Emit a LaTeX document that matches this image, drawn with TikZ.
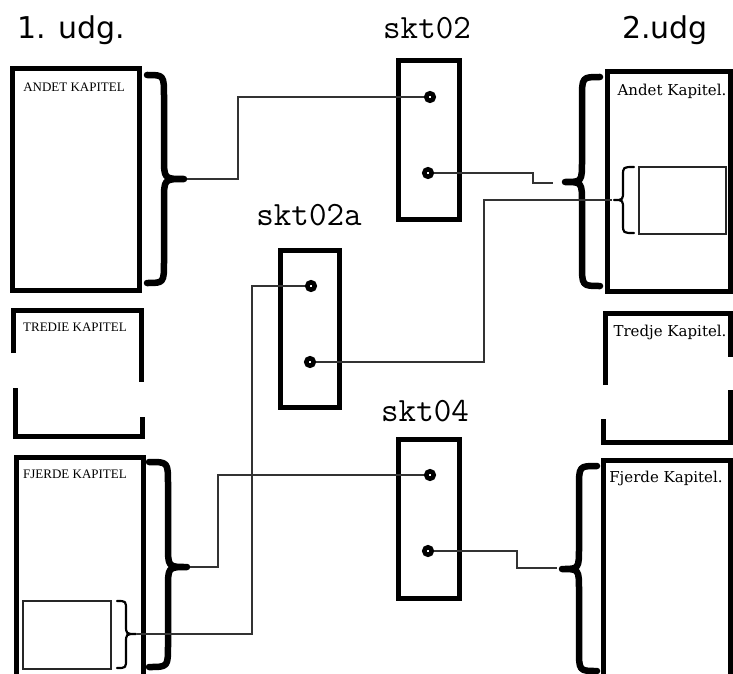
\documentclass[tikz,border=0pt]{standalone}
\usepackage{fontspec}
\newfontfamily\titlefont{DejaVu Sans}
\newfontfamily\capsfont{Liberation Serif}
\newfontfamily\chapfont{DejaVu Serif}
\newcommand\MyBrace[8]{% #1 style, #2 x-ends, #3 x-vertical, #4 x-tip, #5 y-top, #6 y-mid, #7 y-bot, #8 radius
  \draw[#1] (#2,#5) .. controls (#3,#5) .. (#3,#5+#8) -- (#3,#6-#8)
    .. controls (#3,#6) .. (#4,#6) .. controls (#3,#6) .. (#3,#6+#8)
    -- (#3,#7-#8) .. controls (#3,#7) .. (#2,#7);}
\begin{document}
\begin{tikzpicture}[x=1pt,y=-1pt,
  thickbox/.style={line width=5pt, black},
  bigbrace/.style={line width=6.5pt, black, line cap=round, line join=round},
  smallbrace/.style={line width=2.2pt, black, line cap=round, line join=round},
  thinline/.style={line width=1.4pt, black!80},
  innerbox/.style={line width=1.6pt, black!85},
  dot/.style={circle, draw=black, line width=4.5pt, fill=white, inner sep=0pt, minimum size=7.5pt},
  titletext/.style={font=\titlefont\fontsize{30}{36}\selectfont, inner sep=0pt, anchor=base},
  monotext/.style={font=\ttfamily\fontsize{34}{40}\selectfont, inner sep=0pt, anchor=base},
  capstext/.style={font=\capsfont\fontsize{13}{15}\selectfont, inner sep=0pt},
  chaptext/.style={font=\chapfont\fontsize{15}{18}\selectfont, inner sep=0pt}]
\useasboundingbox (0,0) rectangle (733,674);

% titles
\node[titletext] (t1) at (71,39) {1. udg.};
\node[titletext] (t2) at (665,39) {2.udg};
\node[monotext] (m02) at (427,39) {skt02};
\node[monotext] (m02a) at (309,225) {skt02a};
\node[monotext] (m04) at (425,421) {skt04};

% left chapters
\draw[thickbox] (12,69) rectangle (139,290);
\node[capstext] (l1) at (74,87) {ANDET KAPITEL};
\draw[thickbox] (13,353) -- (13,310) -- (141,310) -- (141,382);
\draw[thickbox] (15,388) -- (15,436) -- (142,436) -- (142,417);
\node[capstext] (l2) at (75,327) {TREDIE KAPITEL};
\draw[thickbox] (16,680) -- (16,457) -- (143,457) -- (143,680);
\node[capstext] (l3) at (75,474) {FJERDE KAPITEL};
\draw[innerbox] (23,601) rectangle (111,669);

% right chapters
\draw[thickbox] (607,72) rectangle (730,291);
\node[chaptext] (r1) at (672,91) {Andet Kapitel.};
\draw[innerbox] (639,167) rectangle (726,234);
\draw[thickbox] (605,385) -- (605,313) -- (730,313) -- (730,357);
\draw[thickbox] (603,419) -- (603,442) -- (730,442) -- (730,390);
\node[chaptext] (r2) at (670,332) {Tredje Kapitel.};
\draw[thickbox] (603,680) -- (603,460) -- (730,460) -- (730,680);
\node[chaptext] (r3) at (666,478) {Fjerde Kapitel.};

% socket boxes
\draw[thickbox] (398,61) rectangle (459,219);
\draw[thickbox] (280,250) rectangle (339,407);
\draw[thickbox] (398,439) rectangle (459,598);

% braces
\MyBrace{bigbrace}{147}{164}{184}{75}{179}{283}{22}
\MyBrace{bigbrace}{149}{168}{187}{462}{567}{667}{22}
\MyBrace{smallbrace}{117}{126}{136}{601}{634}{668}{9}
\MyBrace{bigbrace}{600}{582}{565}{77}{182}{286}{22}
\MyBrace{smallbrace}{634}{623}{614}{167}{200}{233}{9}
\MyBrace{bigbrace}{597}{579}{562}{466}{569}{671}{22}

% connector points
\coordinate (b1) at (187,179);
\coordinate (b3) at (190,567);
\coordinate (sb3) at (137,634);
\coordinate (rb1) at (553,183);
\coordinate (rsb1) at (612,200);
\coordinate (rb3) at (557,568);
\coordinate (p02u) at (430,97);
\coordinate (p02l) at (428,173);
\coordinate (p2au) at (311,286);
\coordinate (p2al) at (310,362);
\coordinate (p04u) at (430,475);
\coordinate (p04l) at (428,551);

% connectors
\draw[thinline] (b1) -- (238,179) |- (p02u);
\draw[thinline] (p02l) -- (533,173) |- (rb1);
\draw[thinline] (p2al) -- (484,362) |- (rsb1);
\draw[thinline] (p2au) -- (252,286) |- (sb3);
\draw[thinline] (b3) -- (218,567) |- (p04u);
\draw[thinline] (p04l) -- (517,551) |- (rb3);

% dots
\node[dot] (d02u) at (p02u) {};
\node[dot] (d02l) at (p02l) {};
\node[dot] (d2au) at (p2au) {};
\node[dot] (d2al) at (p2al) {};
\node[dot] (d04u) at (p04u) {};
\node[dot] (d04l) at (p04l) {};
\end{tikzpicture}
\end{document}
